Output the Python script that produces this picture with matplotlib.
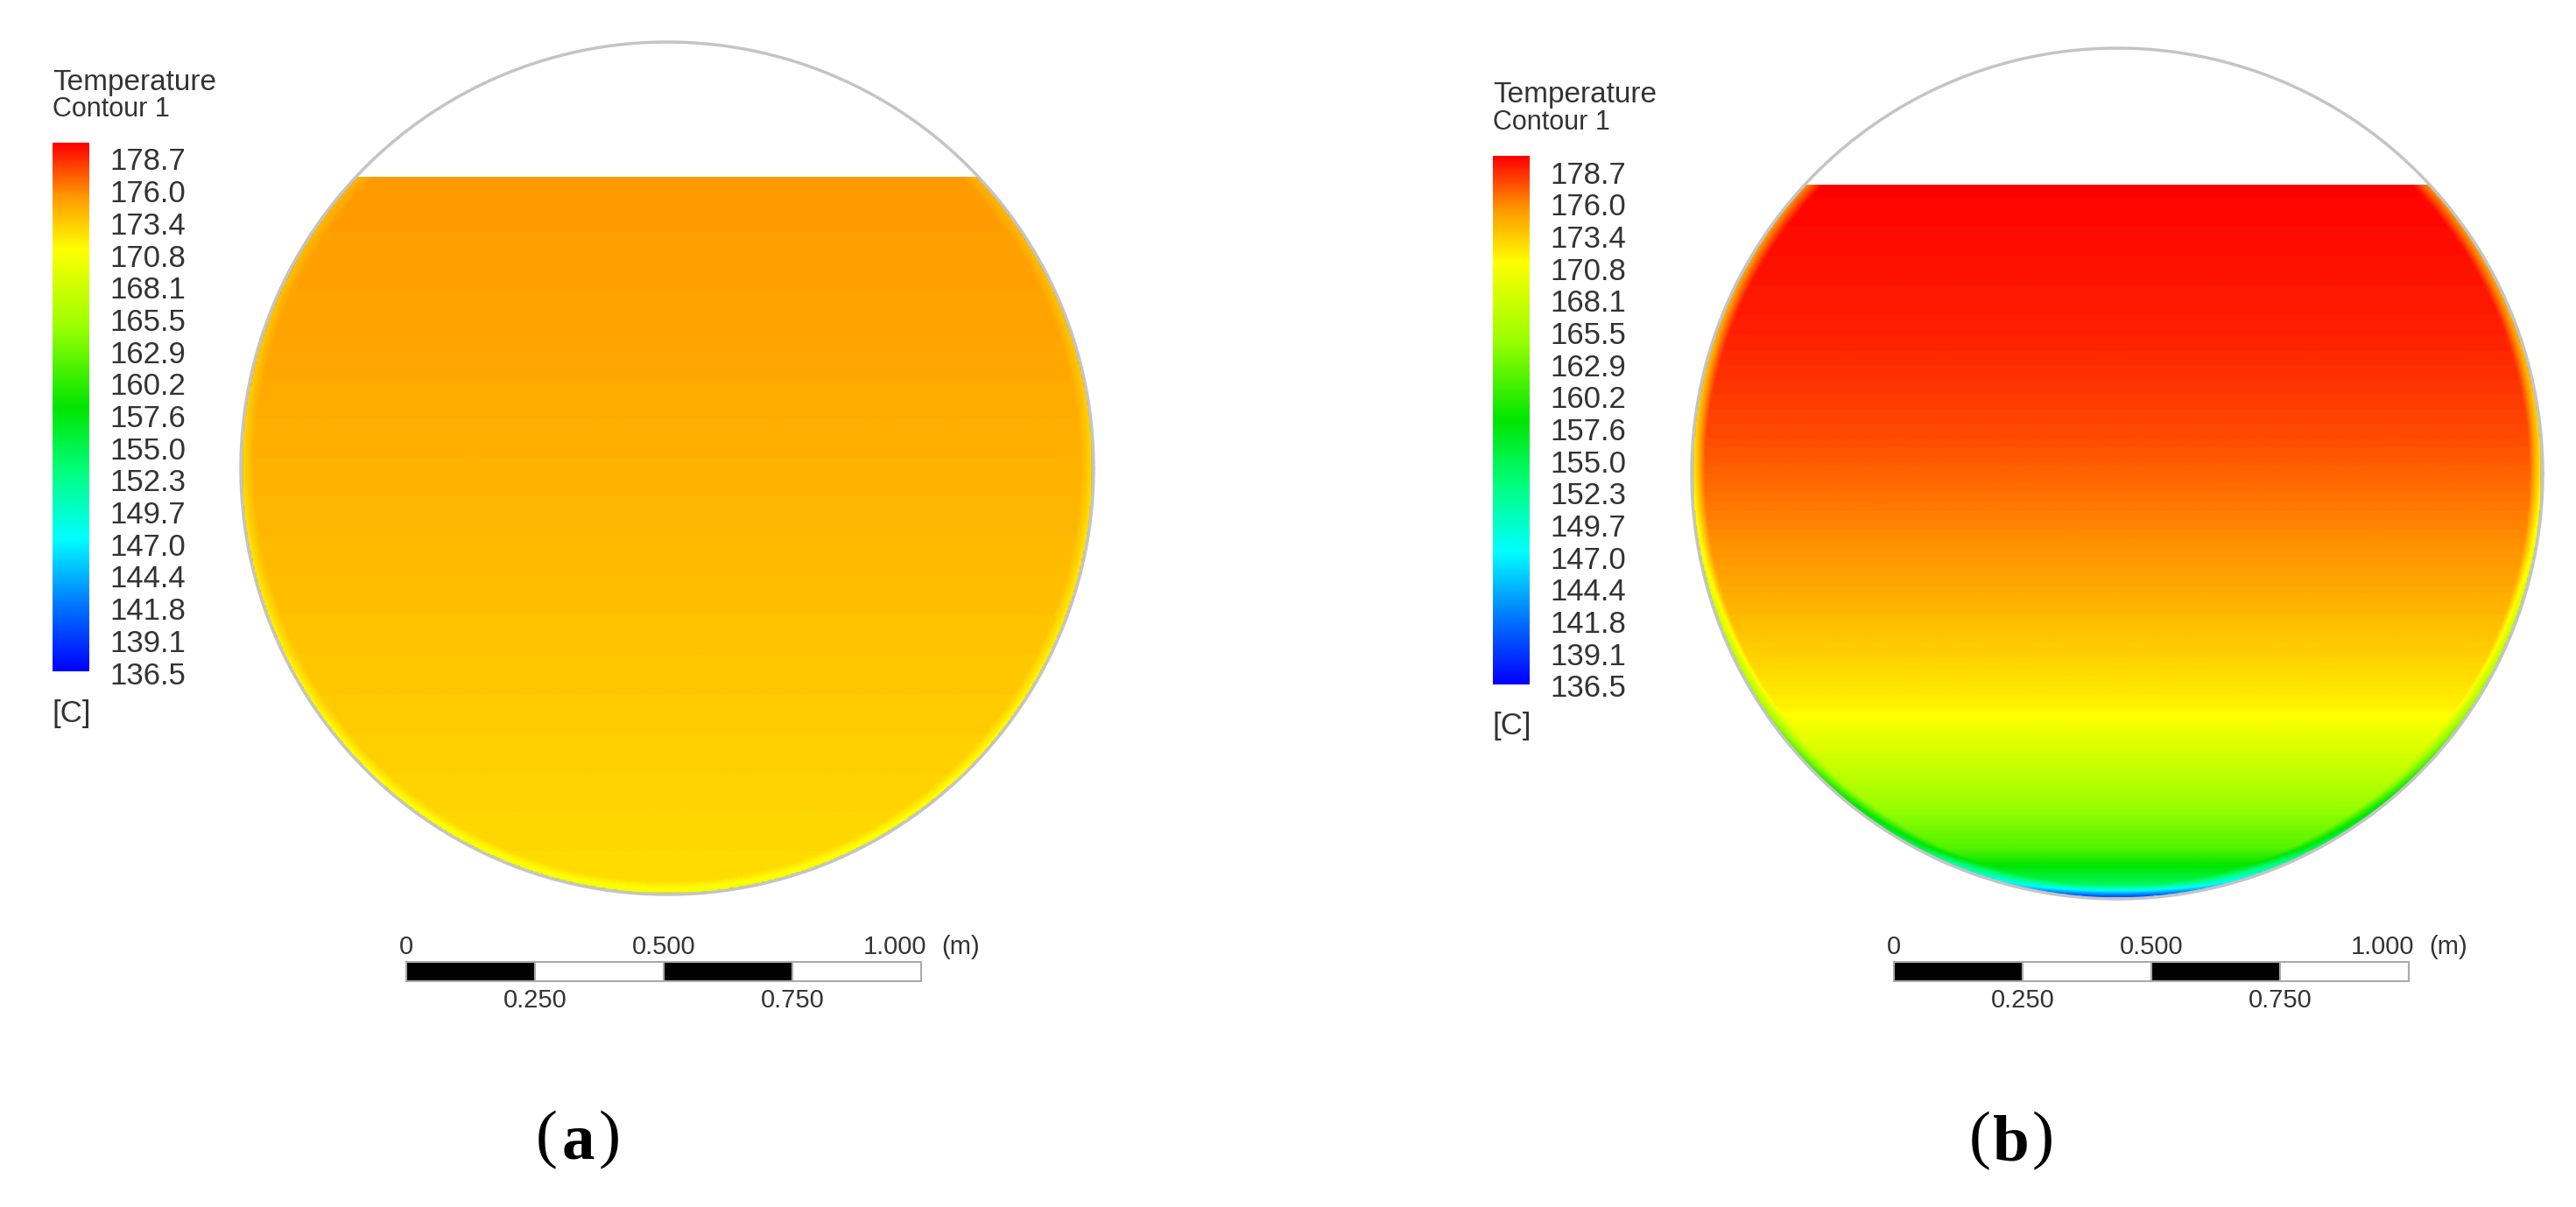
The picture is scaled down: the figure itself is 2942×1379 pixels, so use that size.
import numpy as np
import matplotlib
matplotlib.use("Agg")
import matplotlib.pyplot as plt
from matplotlib.colors import LinearSegmentedColormap

tick_labels = ["178.7","176.0","173.4","170.8","168.1","165.5","162.9","160.2","157.6",
               "155.0","152.3","149.7","147.0","144.4","141.8","139.1","136.5"]
tmin, tmax = 136.5, 178.7
# vertical temperature profiles, depth fraction from liquid surface (0) to bottom (1)
depth_a = [0.0, 0.2, 0.4, 0.6, 0.8, 1.0]
temp_a = [174.4, 174.0, 173.4, 172.8, 172.2, 171.6]
depth_b = [0.0, 0.2, 0.35, 0.53, 0.65, 0.73, 0.84, 0.93, 0.98, 1.0]
temp_b = [178.6, 177.8, 176.6, 174.3, 172.3, 170.8, 165.5, 161.0, 154.0, 146.0]
wall_drop_a = 2.5
wall_drop_b = 8.0
scale_labels_top = ["0", "0.500", "1.000"]
scale_labels_bot = ["0.250", "0.750"]
panel_labels = ["a", "b"]

cmap = LinearSegmentedColormap.from_list("ansys", [
    (0.0, (0, 0, 1)), (0.12, (0, 0.45, 1)), (0.25, (0, 1, 1)), (0.375, (0, 1, 0.5)),
    (0.5, (0, 0.9, 0)), (0.65, (0.6, 1, 0)), (0.8, (1, 1, 0)), (0.9, (1, 0.6, 0)), (1.0, (1, 0, 0))])
W, H = 2942, 1379
fig = plt.figure(figsize=(W/100, H/100), dpi=100)
ax = fig.add_axes([0, 0, 1, 1])
ax.set_xlim(0, W); ax.set_ylim(H, 0); ax.axis("off")
FONT = "Liberation Sans"
TC = "#333333"

panels = [dict(cx=762, cy=535, r=487, top=202, temp=temp_a, dep=depth_a, drop=wall_drop_a,
               lx=60, ly=0, sx=464, lab=(660, 1302)),
          dict(cx=2418, cy=541, r=486, top=211, temp=temp_b, dep=depth_b, drop=wall_drop_b,
               lx=1705, ly=15, sx=2163, lab=(2297, 1303))]

for i, p in enumerate(panels):
    cx, cy, r, top = p["cx"], p["cy"], p["r"], p["top"]
    x0, x1, y0, y1 = cx-r, cx+r, top, cy+r
    xs = np.linspace(x0, x1, 520); ys = np.linspace(y0, y1, 460)
    X, Y = np.meshgrid(xs, ys)
    dist = np.hypot(X-cx, Y-cy)
    d = (Y-top)/(y1-top)
    T = np.interp(d, p["dep"], p["temp"])
    edge = np.clip((r - dist)/14.0, 0, 1)
    T = T - p["drop"]*(1-edge)*(0.5+0.5*d)
    T = np.ma.masked_where(dist > r, T)
    ax.imshow(T, extent=(x0, x1, y1, y0), cmap=cmap, vmin=tmin, vmax=tmax,
              interpolation="bilinear", zorder=1)
    th = np.linspace(0, 2*np.pi, 720)
    ax.plot(cx+r*np.cos(th), cy+r*np.sin(th), color="#c4c4c4", lw=2.5, zorder=2)
    # legend
    lx, ly = p["lx"], p["ly"]
    ax.text(lx, 94+ly, "Temperature", fontsize=24, family=FONT, color=TC, va="center")
    ax.text(lx, 125+ly, "Contour 1", fontsize=22, family=FONT, color=TC, va="center")
    cb_top, cb_bot = 163+ly, 767+ly
    grad = np.linspace(tmax, tmin, 256).reshape(-1, 1)
    ax.imshow(grad, extent=(lx, lx+42, cb_bot, cb_top), cmap=cmap, vmin=tmin, vmax=tmax,
              aspect="auto", zorder=1)
    for k, lab in enumerate(tick_labels):
        yy = 185 + ly + k*(772-185)/(len(tick_labels)-1)
        ax.text(lx+65, yy, lab, fontsize=25, family=FONT, color=TC, va="center")
    ax.text(lx, 815+ly, "[C]", fontsize=25, family=FONT, color=TC, va="center")
    # scale bar
    sx = p["sx"]; sw = 588; sy = 1099
    for j in range(4):
        ax.add_patch(plt.Rectangle((sx+j*sw/4, sy), sw/4, 22,
                     facecolor="black" if j % 2 == 0 else "white", edgecolor="#aaaaaa", lw=1.5, zorder=3))
    tops_x = [sx, sx+sw/2, sx+sw-30]
    for j, lab in enumerate(scale_labels_top):
        ax.text(tops_x[j], sy-17, lab, fontsize=21, family=FONT, color=TC, ha="center", va="center")
    ax.text(sx+sw+45, sy-17, "(m)", fontsize=21, family=FONT, color=TC, ha="center", va="center")
    for j, lab in enumerate(scale_labels_bot):
        ax.text(sx+sw/4+j*sw/2, sy+44, lab, fontsize=21, family=FONT, color=TC, ha="center", va="center")
    # panel label
    px, py = p["lab"]
    ax.text(px-36, py, "(", fontsize=54, family="Liberation Serif", ha="center", va="center")
    ax.text(px, py+4, panel_labels[i], fontsize=54, family="Liberation Serif", weight="bold",
            ha="center", va="center")
    ax.text(px+36, py, ")", fontsize=54, family="Liberation Serif", ha="center", va="center")

fig.savefig("out.png", dpi=100)
